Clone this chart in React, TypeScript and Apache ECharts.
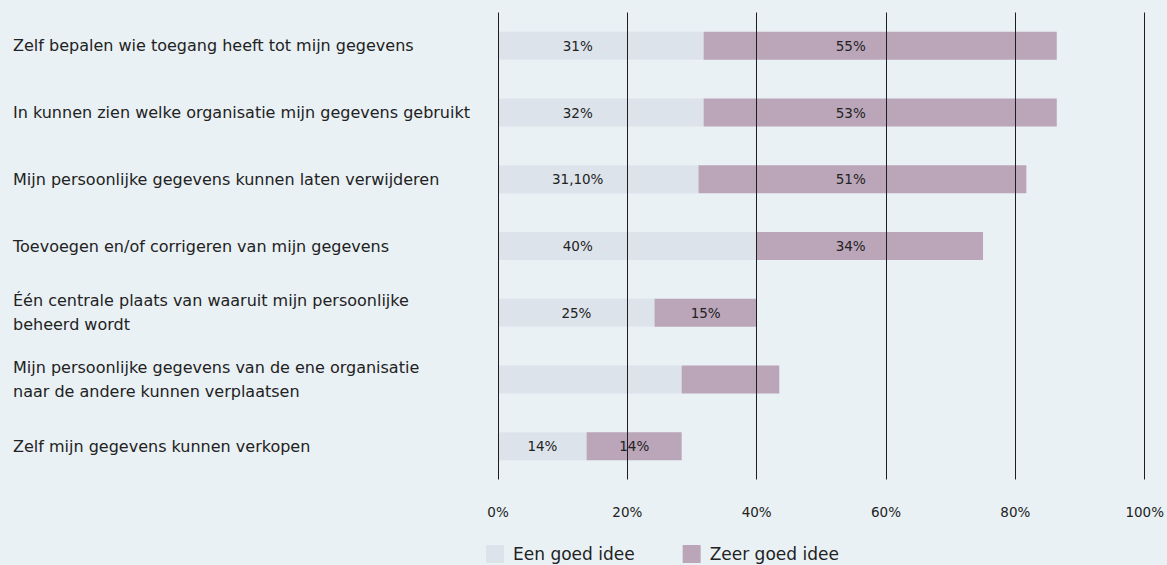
import React, { useEffect, useRef } from "react";
import * as echarts from "echarts";

const categories = [
  "Zelf bepalen wie toegang heeft tot mijn gegevens",
  "In kunnen zien welke organisatie mijn gegevens gebruikt",
  "Mijn persoonlijke gegevens kunnen laten verwijderen",
  "Toevoegen en/of corrigeren van mijn gegevens",
  "Één centrale plaats van waaruit mijn persoonlijke\nbeheerd wordt",
  "Mijn persoonlijke gegevens van de ene organisatie\nnaar de andere kunnen verplaatsen",
  "Zelf mijn gegevens kunnen verkopen",
];

const eenGoedIdee = [31.8, 31.8, 31.0, 40.0, 24.2, 28.4, 13.7];
const zeerGoedIdee = [54.6, 54.6, 50.7, 35.0, 15.8, 15.1, 14.7];

const eenGoedLabels = ["31%", "32%", "31,10%", "40%", "25%", "", "14%"];
const zeerGoedLabels = ["55%", "53%", "51%", "34%", "15%", "", "14%"];

const seriesNames = ["Een goed idee", "Zeer goed idee"];

const W = 1167;
const H = 565;
const GRID_LEFT = 498;
const GRID_RIGHT = 21;
const PX_PER_UNIT = (W - GRID_LEFT - GRID_RIGHT) / 100;
const LIGHT_LABEL_MAX = 12.3;
const DARK_LABEL_MAX = 54.5;

const FONT = "'DejaVu Sans', sans-serif";
const TEXT = "#222222";

export default function App() {
  const ref = useRef<HTMLDivElement>(null);

  useEffect(() => {
    if (!ref.current) return;
    const chart = echarts.init(ref.current, null, { renderer: "svg" });

    const lightData = eenGoedIdee.map((v, i) => ({
      value: v,
      label: {
        show: eenGoedLabels[i] !== "",
        position: [Math.min(v / 2, LIGHT_LABEL_MAX) * PX_PER_UNIT, "50%"],
        align: "center",
        verticalAlign: "middle",
      },
    }));

    const darkData = zeerGoedIdee.map((v, i) => {
      const start = eenGoedIdee[i];
      const center = Math.min(start + v / 2, DARK_LABEL_MAX);
      return {
        value: v,
        label: {
          show: zeerGoedLabels[i] !== "",
          position: [(center - start) * PX_PER_UNIT, "50%"],
          align: "center",
          verticalAlign: "middle",
        },
      };
    });

    chart.setOption({
      animation: false,
      backgroundColor: "#e9f1f5",
      textStyle: { fontFamily: FONT },
      grid: { left: GRID_LEFT, right: GRID_RIGHT, top: 12.5, bottom: 85.5 },
      legend: {
        data: seriesNames,
        left: 486,
        top: 545,
        padding: 0,
        itemWidth: 18,
        itemHeight: 18,
        itemGap: 48,
        icon: "rect",
        textStyle: { fontSize: 17, color: TEXT, fontFamily: FONT, padding: [0, 0, 0, 4] },
      },
      xAxis: {
        type: "value",
        min: 0,
        max: 100,
        interval: 20,
        z: 5,
        axisLine: { show: false },
        axisTick: { show: false },
        splitLine: { show: true, lineStyle: { color: "#1e1e1e", width: 1 } },
        axisLabel: {
          formatter: "{value}%",
          color: TEXT,
          fontSize: 13.5,
          fontFamily: FONT,
          margin: 25,
        },
      },
      yAxis: {
        type: "category",
        data: categories,
        inverse: true,
        axisLine: { show: false },
        axisTick: { show: false },
        splitLine: { show: false },
        axisLabel: {
          align: "left",
          margin: 485,
          color: TEXT,
          fontSize: 16,
          lineHeight: 24,
          fontFamily: FONT,
        },
      },
      series: [
        {
          name: seriesNames[0],
          type: "bar",
          stack: "total",
          barWidth: 28,
          itemStyle: { color: "#dce3eb" },
          label: {
            show: true,
            color: TEXT,
            fontSize: 13.5,
            fontFamily: FONT,
            formatter: (p: any) => eenGoedLabels[p.dataIndex],
          },
          data: lightData,
        },
        {
          name: seriesNames[1],
          type: "bar",
          stack: "total",
          barWidth: 28,
          itemStyle: { color: "#bba5b9" },
          label: {
            show: true,
            color: TEXT,
            fontSize: 13.5,
            fontFamily: FONT,
            formatter: (p: any) => zeerGoedLabels[p.dataIndex],
          },
          data: darkData,
        },
      ],
    });

    return () => chart.dispose();
  }, []);

  return (
    <div
      ref={ref}
      style={{ position: "fixed", left: 0, top: 0, width: W, height: H }}
    />
  );
}
